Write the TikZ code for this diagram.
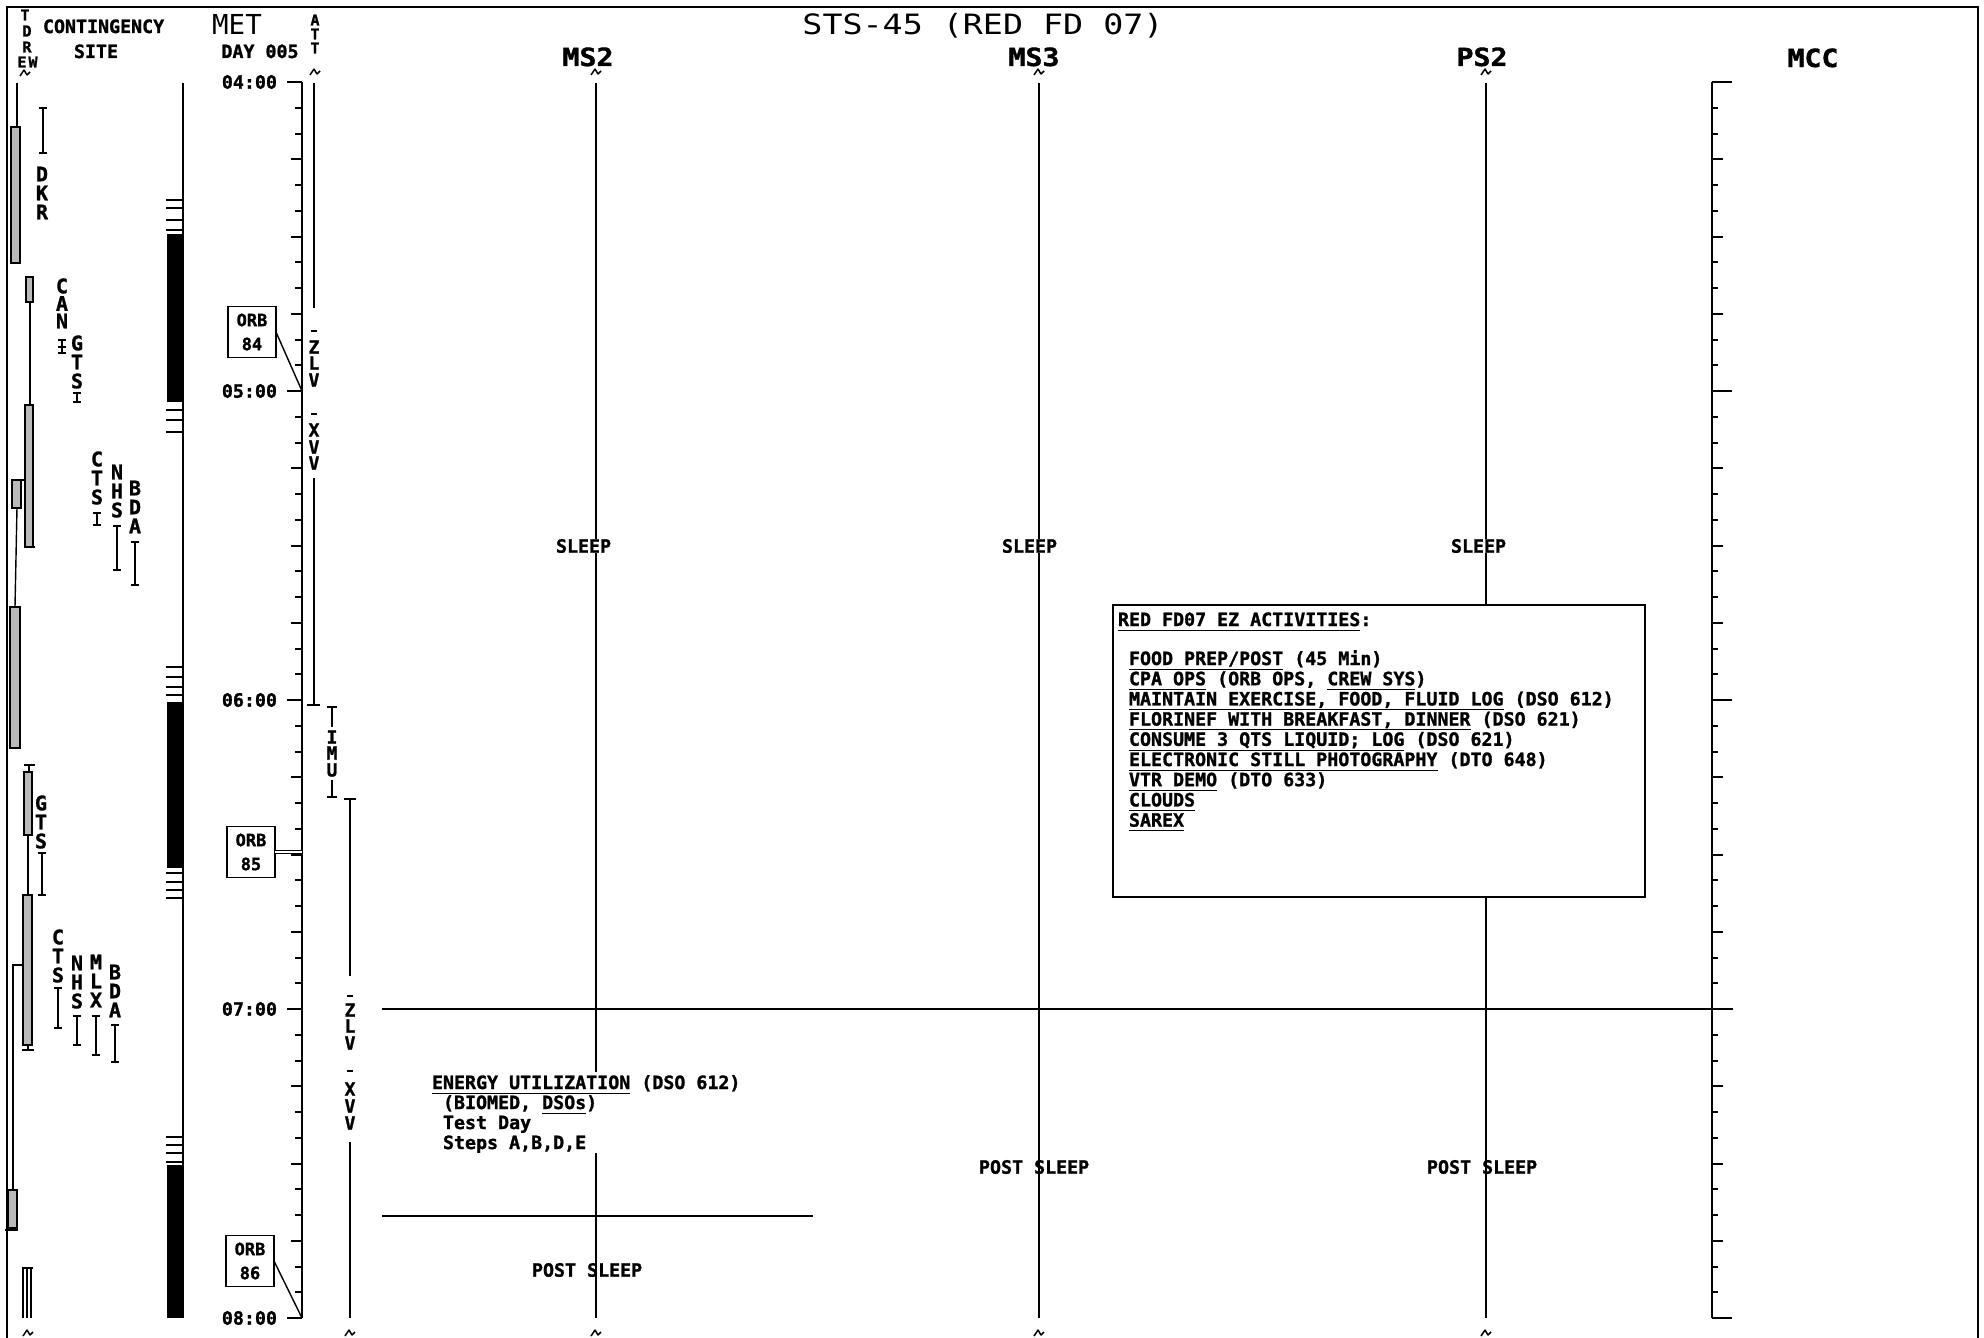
\documentclass[tikz,border=0pt]{standalone}
\usepackage{fontspec}
\newfontfamily\monof{DejaVu Sans Mono}[BoldFeatures={FakeBold=1.3}]
\newcommand\bodyf{\monof\bfseries\fontsize{18.3}{20.3}\selectfont}
\newcommand\smallf{\monof\bfseries\fontsize{15}{15}\selectfont}
\newcommand\letf{\monof\bfseries\fontsize{20}{20}\selectfont}
\newcommand\attf{\monof\bfseries\fontsize{18}{18}\selectfont}
\newcommand\myul[1]{\underline{#1\vphantom{(}}}
\newcommand\stibar[3]{\draw[thinl] (#1-4,#2) -- (#1+4,#2) (#1,#2) -- (#1,#3) (#1-4,#3) -- (#1+4,#3);}
\newcommand\vlet[4]{\foreach \c [count=\i] in {#4} {\node[vl] (#1\i) at (#2,{#3+(\i-1)*19}) {\c};}}
\begin{document}
\begin{tikzpicture}[x=1pt,y=-1pt,
  every node/.style={inner sep=0pt, outer sep=0pt},
  body/.style={font=\bodyf},
  txt/.style={font=\bodyf, anchor=base west},
  vl/.style={font=\letf},
  al/.style={font=\attf},
  ax/.style={line width=2pt},
  thinl/.style={line width=1.4pt},
  orbbox/.style={draw, line width=1.8pt, minimum width=48pt, minimum height=51pt, align=center, font=\monof\bfseries\fontsize{17}{24}\selectfont},
  bar/.style={draw, line width=1.2pt, fill=gray!55},
  hdr/.style={font=\monof\bfseries\fontsize{25}{25}\selectfont, xscale=1.13, anchor=base},
  squig/.pic={\draw[line width=1.5pt, line join=round] (-5,3) -- (-1,-3) -- (2,2) -- (5,-1);}
]
\useasboundingbox (0,0) rectangle (1984,1338);
\fill[white] (0,0) rectangle (1984,1338);
% frame
\draw[line width=1.6pt] (7,1338) -- (7,7) -- (1978,7) -- (1978,1338);

% headings
\node[body, anchor=base west] (cont) at (43,33) {CONTINGENCY};
\node[body, anchor=base] (site) at (96,58) {SITE};
\node[font=\monof\fontsize{27.5}{27.5}\selectfont, anchor=base] (met) at (237,35) {MET};
\node[body, anchor=base] (day) at (260,58) {DAY 005};
\node[font=\monof\fontsize{28}{28}\selectfont, xscale=1.19, anchor=base] (title) at (983,35) {STS-45 (RED FD 07)};
\node[hdr] (hms2) at (588,66) {MS2};
\node[hdr] (hms3) at (1034,66) {MS3};
\node[hdr] (hps2) at (1482,66) {PS2};
\node[hdr] (hmcc) at (1813,67) {MCC};

% TDRE W and ATT headers
\node[font=\smallf] (tdT) at (25,15) {T};
\node[font=\smallf] (tdD) at (27,31) {D};
\node[font=\smallf] (tdR) at (27,47) {R};
\node[font=\smallf] (tdE) at (22,62) {E};
\node[font=\smallf] (tdW) at (33,62) {W};
\node[font=\smallf] (attA) at (315,20) {A};
\node[font=\smallf] (attT1) at (315,34) {T};
\node[font=\smallf] (attT2) at (315,48) {T};

% squiggles
\foreach \sx/\sy in {25/73,315/72,596/72,1039/72,1486/72,28/1333,350/1333,596/1333,1039/1333,1486/1333}
  {\pic at (\sx,\sy) {squig};}

% MET axis and MCC axis
\draw[ax] (302,82) -- (302,1318);
\draw[ax] (1712,82) -- (1712,1318);
\foreach \m in {0,5,...,240}{
  \pgfmathsetmacro\yy{82+5.15*\m}
  \pgfmathsetmacro\ll{mod(\m,60)==0 ? 15 : (mod(\m,15)==0 ? 11 : 7)}
  \pgfmathsetmacro\rr{mod(\m,60)==0 ? 20 : (mod(\m,15)==0 ? 11 : 6)}
  \draw[ax] (302-\ll,\yy) -- (302,\yy);
  \draw[ax] (1712,\yy) -- (1712+\rr,\yy);
}
\foreach \h [count=\i from 0] in {04,05,06,07,08}
  {\node[body, anchor=east] (lab\h) at (277,{82+309*\i}) {\h:00};}
\coordinate (t0500) at (302,391);
\coordinate (t0630) at (302,854.5);
\coordinate (t0800) at (302,1318);

% ORB boxes
\node[orbbox] (orb84) at (252,332) {ORB\\84};
\node[orbbox] (orb85) at (251,852) {ORB\\85};
\node[orbbox] (orb86) at (250,1261) {ORB\\86};
\draw[thinl] (orb84.east) -- (t0500);
\draw[line width=1pt, double, double distance=1.5pt] (orb85.east) -- (orb85.east -| t0630);
\draw[thinl] (orb86.east) -- (t0800);

% day / night column
\draw[ax] (183,83) -- (183,1318);
\fill (167,234) rectangle (183,402);
\fill (167,702) rectangle (183,868);
\fill (167,1165) rectangle (183,1318);
\foreach \y in {200,208,220,230,410,420,432,667,677,687,695,873,882,890,898,1137,1145,1153,1162}
  {\draw[line width=1.5pt] (166,\y) -- (183,\y);}

% TDRS East / West coverage
\draw[thinl] (17,83) -- (17,127);
\draw[bar] (11,127) rectangle (20,263);
\draw[bar] (26,277) rectangle (33,302);
\draw[thinl] (30,302) -- (30,405);
\draw[bar] (25,405) rectangle (33,547);
\draw[thinl] (24,547) -- (35,547);
\draw[bar] (12,480) rectangle (21,508);
\draw[thinl] (21,480) -- (25,480);
\draw[thinl] (17,508) -- (15,607);
\draw[bar] (10,607) rectangle (20,748);
\draw[thinl] (24,765) -- (35,765);
\draw[thinl] (29,765) -- (29,772);
\draw[bar] (24,772) rectangle (32,835);
\draw[thinl] (28,835) -- (28,895);
\draw[bar] (23,895) rectangle (32,1045);
\draw[thinl] (22,1050) -- (34,1050) (28,1045) -- (28,1050);
\draw[thinl] (22,965) -- (13,965) -- (13,1190);
\draw[bar] (8,1190) rectangle (17,1228);
\draw[thinl] (5,1230) -- (18,1230);
\draw[thinl] (22,1268) -- (33,1268);
\foreach \vx in {23,27,31} {\draw[line width=1.2pt] (\vx,1268) -- (\vx,1318);}

% contingency sites
\vlet{dkr}{42}{174}{D,K,R}
\stibar{43}{108}{153}
\foreach \c [count=\i] in {C,A,N} {\node[vl] (can\i) at (62,{286+(\i-1)*17.5}) {\c};}
\stibar{62}{340}{353}
\draw[thinl] (58,347) -- (66,347);
\vlet{gts}{77}{343}{G,T,S}
\stibar{77}{393}{402}
\vlet{cts}{97}{459}{C,T,S}
\stibar{97}{513}{525}
\vlet{nhs}{117}{472}{N,H,S}
\stibar{117}{526}{570}
\vlet{bda}{135}{488}{B,D,A}
\stibar{135}{542}{585}
\vlet{gtsb}{41}{803}{G,T,S}
\stibar{42}{853}{895}
\vlet{ctsb}{58}{937}{C,T,S}
\stibar{58}{988}{1028}
\vlet{nhsb}{77}{963}{N,H,S}
\stibar{77}{1016}{1045}
\vlet{mlx}{96}{962}{M,L,X}
\stibar{96}{1016}{1055}
\vlet{bdab}{115}{972}{B,D,A}
\stibar{115}{1025}{1062}

% attitude column
\draw[ax] (314,83) -- (314,308);
\draw[thinl] (311,331) -- (317,331);
\node[al] (z1) at (314,347) {Z};
\node[al] (l1) at (314,363) {L};
\node[al] (v1) at (314,380) {V};
\draw[thinl] (311,414) -- (317,414);
\node[al] (x1) at (314,430) {X};
\node[al] (v2) at (314,447) {V};
\node[al] (v3) at (314,463) {V};
\draw[ax] (314,478) -- (314,705);
\draw[thinl] (307,705) -- (320,705);
\draw[thinl] (327,707) -- (337,707) (332,707) -- (332,727);
\node[al] (imuI) at (332,737) {I};
\node[al] (imuM) at (332,753) {M};
\node[al] (imuU) at (332,770) {U};
\draw[thinl] (332,780) -- (332,797) (327,797) -- (337,797);
\draw[thinl] (344,799) -- (356,799);
\draw[ax] (350,799) -- (350,976);
\draw[thinl] (347,996) -- (353,996);
\node[al] (z2) at (350,1010) {Z};
\node[al] (l2) at (350,1026) {L};
\node[al] (v4) at (350,1043) {V};
\draw[thinl] (347,1071) -- (353,1071);
\node[al] (x2) at (350,1089) {X};
\node[al] (v5) at (350,1106) {V};
\node[al] (v6) at (350,1123) {V};
\draw[ax] (350,1142) -- (350,1318);

% crew timelines
\coordinate (ms2top) at (596,83);
\coordinate (ms3top) at (1039,83);
\coordinate (ps2top) at (1486,83);
\node[draw, line width=1.6pt, minimum width=532pt, minimum height=292pt] (ez) at (1379,751) {};
\draw[ax] (ms2top) -- (596,1072);
\draw[ax] (596,1153) -- (596,1318);
\draw[ax] (ms3top) -- (1039,1318);
\draw[ax] (ps2top) -- (ez.north -| ps2top);
\draw[ax] (ez.south -| ps2top) -- (1486,1318);

% horizontal lines
\coordinate (h7a) at (382,1009);
\coordinate (h7b) at (1733,1009);
\draw[ax] (h7a) -- (h7b);
\coordinate (heA) at (382,1216);
\coordinate (heB) at (813,1216);
\draw[thinl] (heA) -- (heB);

% sleep labels
\node[body, fill=white, anchor=west] (sl1) at (556,546) {SLEEP};
\node[body, fill=white, anchor=west] (sl2) at (1002,546) {SLEEP};
\node[body, fill=white, anchor=west] (sl3) at (1451,546) {SLEEP};
\node[body, anchor=west] (psl1) at (532,1270) {POST SLEEP};
\node[body, anchor=west] (psl2) at (979,1167) {POST SLEEP};
\node[body, anchor=west] (psl3) at (1427,1167) {POST SLEEP};

% energy utilization
\node[txt] (en1) at (432,1089) {\myul{ENERGY UTILIZATION} (DSO 612)};
\node[txt] (en2) at (443,1109) {(BIOMED, \myul{DSOs})};
\node[txt] (en3) at (443,1129) {Test Day};
\node[txt] (en4) at (443,1149) {Steps A,B,D,E};

% EZ activities
\node[txt] (ezh) at (1118,626) {\myul{RED FD07 EZ ACTIVITIES}:};
\node[txt] (ez1) at (1129,665) {\myul{FOOD PREP/POST} (45 Min)};
\node[txt] (ez2) at (1129,685.2) {\myul{CPA OPS} (ORB OPS, \myul{CREW SYS})};
\node[txt] (ez3) at (1129,705.4) {\myul{MAINTAIN EXERCISE, FOOD, FLUID LOG} (DSO 612)};
\node[txt] (ez4) at (1129,725.6) {\myul{FLORINEF WITH BREAKFAST, DINNER} (DSO 621)};
\node[txt] (ez5) at (1129,745.8) {\myul{CONSUME 3 QTS LIQUID; LOG} (DSO 621)};
\node[txt] (ez6) at (1129,766) {\myul{ELECTRONIC STILL PHOTOGRAPHY} (DTO 648)};
\node[txt] (ez7) at (1129,786.2) {\myul{VTR DEMO} (DTO 633)};
\node[txt] (ez8) at (1129,806.4) {\myul{CLOUDS}};
\node[txt] (ez9) at (1129,826.6) {\myul{SAREX}};
\end{tikzpicture}
\end{document}
